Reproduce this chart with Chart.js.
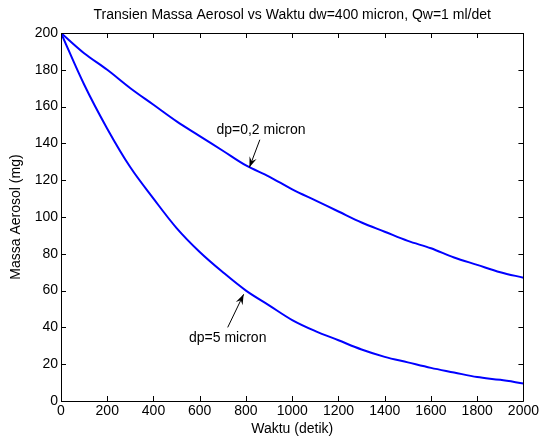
<!DOCTYPE html>
<html>
<head>
<meta charset="utf-8">
<script src="https://cdn.jsdelivr.net/npm/chart.js@4/dist/chart.umd.min.js"></script>
<style>
  body { margin: 0; background: #fff; }
  #wrap { width: 541px; height: 439px; }
</style>
</head>
<body>
<div id="wrap"><canvas id="myChart" width="541" height="439"></canvas></div>
<script>
var judul = 'Transien Massa Aerosol vs Waktu dw=400 micron, Qw=1 ml/det';
var waktu = [0, 100, 200, 300, 400, 500, 600, 700, 800, 900, 1000, 1100, 1200, 1300, 1400, 1500, 1600, 1700, 1800, 1900, 2000];
// dp = 0,2 micron
var massaKecil = [200, 189, 180, 170, 161, 152, 144, 136, 128, 122, 115, 109, 103, 97, 92, 87, 83, 78, 74, 70, 67];
// dp = 5 micron
var massaBesar = [200, 172, 148, 127, 110, 94, 81, 70, 60, 52, 44, 38, 33, 28, 24, 21, 18, 15.5, 13, 11.5, 9.5];
var xTicks = [0, 200, 400, 600, 800, 1000, 1200, 1400, 1600, 1800, 2000];
var yTicks = [0, 20, 40, 60, 80, 100, 120, 140, 160, 180, 200];

// annotations: label position, arrow tail, arrow head (data units)
var notes = [
  { text: 'dp=0,2 micron', tx: 865, ty: 147, x0: 860, y0: 142, x1: 815, y1: 127 },
  { text: 'dp=5 micron', tx: 721, ty: 34, x0: 721, y0: 40, x1: 790, y1: 58 }
];

function toPts(xs, ys) {
  var out = [];
  for (var i = 0; i < xs.length; i++) out.push({ x: xs[i], y: ys[i] });
  return out;
}

Chart.defaults.font.family = "'Liberation Sans', Arial, sans-serif";
Chart.defaults.font.size = 14;
Chart.defaults.color = '#000';

var matlabBox = {
  id: 'matlabBox',
  afterDraw: function(chart) {
    var ctx = chart.ctx, a = chart.chartArea;
    var xs = chart.scales.x, ys = chart.scales.y;
    ctx.save();
    ctx.strokeStyle = '#000';
    ctx.lineWidth = 1;
    ctx.beginPath();
    ctx.rect(Math.round(a.left) + 0.5, Math.round(a.top) + 0.5, Math.round(a.right - a.left), Math.round(a.bottom - a.top));
    xTicks.forEach(function(v) {
      var px = Math.round(xs.getPixelForValue(v)) + 0.5;
      ctx.moveTo(px, a.bottom); ctx.lineTo(px, a.bottom - 5);
      ctx.moveTo(px, a.top); ctx.lineTo(px, a.top + 5);
    });
    yTicks.forEach(function(v) {
      var py = Math.round(ys.getPixelForValue(v)) + 0.5;
      ctx.moveTo(a.left, py); ctx.lineTo(a.left + 5, py);
      ctx.moveTo(a.right, py); ctx.lineTo(a.right - 5, py);
    });
    ctx.stroke();

    ctx.font = "14px 'Liberation Sans', Arial, sans-serif";
    ctx.fillStyle = '#000';
    ctx.textAlign = 'center';
    ctx.textBaseline = 'middle';
    // title centred over the axes, like matlab
    ctx.fillText(judul, (a.left + a.right) / 2, 15);

    // annotations
    notes.forEach(function(n) {
      ctx.fillText(n.text, xs.getPixelForValue(n.tx), ys.getPixelForValue(n.ty));
      var x0 = xs.getPixelForValue(n.x0), y0 = ys.getPixelForValue(n.y0);
      var x1 = xs.getPixelForValue(n.x1), y1 = ys.getPixelForValue(n.y1);
      ctx.beginPath();
      ctx.moveTo(x0, y0); ctx.lineTo(x1, y1);
      ctx.stroke();
      var ang = Math.atan2(y1 - y0, x1 - x0), L = 11, W = 0.35;
      ctx.beginPath();
      ctx.moveTo(x1, y1);
      ctx.lineTo(x1 - L * Math.cos(ang - W), y1 - L * Math.sin(ang - W));
      ctx.lineTo(x1 - L * 0.6 * Math.cos(ang), y1 - L * 0.6 * Math.sin(ang));
      ctx.lineTo(x1 - L * Math.cos(ang + W), y1 - L * Math.sin(ang + W));
      ctx.closePath();
      ctx.fill();
    });
    ctx.restore();
  }
};

var ctx = document.getElementById('myChart');
var myChart = new Chart(ctx, {
  type: 'line',
  data: {
    datasets: [{
      label: 'dp=0,2 micron',
      data: toPts(waktu, massaKecil),
      borderColor: '#0000ff',
      borderWidth: 2,
      pointRadius: 0,
      tension: 0.35
    }, {
      label: 'dp=5 micron',
      data: toPts(waktu, massaBesar),
      borderColor: '#0000ff',
      borderWidth: 2,
      pointRadius: 0,
      tension: 0.35
    }]
  },
  options: {
    responsive: false,
    animation: false,
    layout: { padding: { left: 8, right: 16, top: 33, bottom: 1 } },
    plugins: {
      legend: { display: false },
      tooltip: { enabled: false },
      title: { display: false }
    },
    scales: {
      x: {
        type: 'linear',
        min: 0,
        max: 2000,
        afterBuildTicks: function(s) { s.ticks = xTicks.map(function(v) { return { value: v }; }); },
        ticks: { padding: 2, maxRotation: 0, autoSkip: false, callback: function(v) { return String(v); } },
        grid: { display: false, drawTicks: false },
        border: { display: false },
        title: { display: true, text: 'Waktu (detik)', padding: { top: 1, bottom: 0 } },
        afterFit: function(s) { s.height = 37; }
      },
      y: {
        min: 0,
        max: 200,
        afterBuildTicks: function(s) { s.ticks = yTicks.map(function(v) { return { value: v }; }); },
        ticks: { padding: 3, autoSkip: false, callback: function(v) { return String(v); } },
        grid: { display: false, drawTicks: false },
        border: { display: false },
        title: { display: true, text: 'Massa Aerosol (mg)', padding: { top: 0, bottom: 2 } },
        afterFit: function(s) { s.width = 53; }
      }
    }
  },
  plugins: [matlabBox]
});
</script>
</body>
</html>
